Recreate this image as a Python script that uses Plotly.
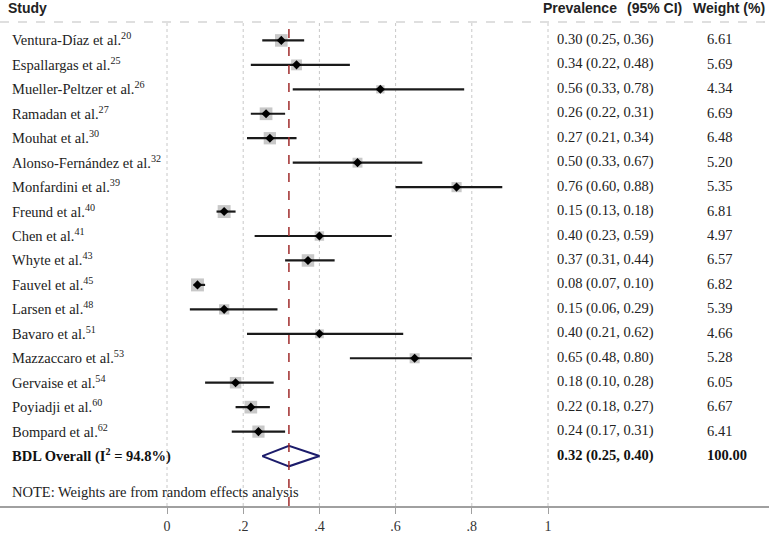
import plotly.graph_objects as go

# ---------------- data ----------------
studies = ["Ventura-Díaz et al.", "Espallargas et al.", "Mueller-Peltzer et al.",
           "Ramadan et al.", "Mouhat et al.", "Alonso-Fernández et al.",
           "Monfardini et al.", "Freund et al.", "Chen et al.", "Whyte et al.",
           "Fauvel et al.", "Larsen et al.", "Bavaro et al.", "Mazzaccaro et al.",
           "Gervaise et al.", "Poyiadji et al.", "Bompard et al."]
refs = [20, 25, 26, 27, 30, 32, 39, 40, 41, 43, 45, 48, 51, 53, 54, 60, 62]
prevalence = [0.30, 0.34, 0.56, 0.26, 0.27, 0.50, 0.76, 0.15, 0.40, 0.37,
              0.08, 0.15, 0.40, 0.65, 0.18, 0.22, 0.24]
ci_low = [0.25, 0.22, 0.33, 0.22, 0.21, 0.33, 0.60, 0.13, 0.23, 0.31,
          0.07, 0.06, 0.21, 0.48, 0.10, 0.18, 0.17]
ci_high = [0.36, 0.48, 0.78, 0.31, 0.34, 0.67, 0.88, 0.18, 0.59, 0.44,
           0.10, 0.29, 0.62, 0.80, 0.28, 0.27, 0.31]
weights = [6.61, 5.69, 4.34, 6.69, 6.48, 5.20, 5.35, 6.81, 4.97, 6.57,
           6.82, 5.39, 4.66, 5.28, 6.05, 6.67, 6.41]
overall_label = "BDL Overall"
overall_i2 = 94.8
overall_est, overall_low, overall_high = 0.32, 0.25, 0.40
overall_weight = 100.00
tick_vals = [0, 0.2, 0.4, 0.6, 0.8, 1]
tick_text = ["0", ".2", ".4", ".6", ".8", "1"]
note = "NOTE: Weights are from random effects analysis"

# ---------------- layout helpers ----------------
W, H = 769, 534
px0, px1 = 167, 548          # pixel positions of x=0 and x=1
scale = px1 - px0
x_range = [(0 - px0) / scale, (W - px0) / scale]
top_px, bot_px = 22, 508
row0_px, row_h = 40.5, 24.55
y_range = [(bot_px - row0_px) / row_h, (top_px - row0_px) / row_h]
plot_h = bot_px - top_px

def paper_y(px):
    return (bot_px - px) / plot_h

SERIF = "Liberation Serif"
SANS = "Liberation Sans"

n = len(studies)
rows = list(range(n))
overall_row = n

fig = go.Figure()

# weight squares
fig.add_trace(go.Scatter(x=prevalence, y=rows, mode="markers",
                         marker=dict(symbol="square", color="#b0b0b0",
                                     size=[w * 1.9 for w in weights],
                                     line=dict(width=0)),
                         hoverinfo="skip", showlegend=False))
# CI lines
xs, ys = [], []
for i in rows:
    xs += [ci_low[i], ci_high[i], None]
    ys += [i, i, None]
fig.add_trace(go.Scatter(x=xs, y=ys, mode="lines",
                         line=dict(color="#1a1a1a", width=2.2),
                         hoverinfo="skip", showlegend=False))
# point estimates
fig.add_trace(go.Scatter(x=prevalence, y=rows, mode="markers",
                         marker=dict(symbol="diamond", color="black", size=7),
                         hoverinfo="skip", showlegend=False))

# overall diamond
hh = 0.42
fig.add_trace(go.Scatter(
    x=[overall_low, overall_est, overall_high, overall_est, overall_low],
    y=[overall_row, overall_row - hh, overall_row, overall_row + hh, overall_row],
    mode="lines", line=dict(color="#1c1c6b", width=2),
    hoverinfo="skip", showlegend=False))

# grid lines (dotted)
for v in tick_vals:
    fig.add_shape(type="line", xref="x", yref="paper", x0=v, x1=v, y0=0, y1=1,
                  line=dict(color="#c8c8c8", width=1, dash="dot"), layer="below")

# overall reference line (red dashed)
fig.add_shape(type="line", xref="x", yref="paper", x0=overall_est, x1=overall_est,
              y0=0, y1=1, line=dict(color="#a02c2c", width=1.5, dash="dash"))

# top dashed separator
fig.add_shape(type="line", xref="paper", yref="paper", x0=0, x1=1, y0=1, y1=1,
              line=dict(color="#c0c0c0", width=1.2, dash="dash"))

# study labels and columns
lab_x = 10 / W
prev_x = 555 / W
wt_x = 705 / W
tshift = 1
body_font = dict(family=SERIF, size=14.5, color="#222")
for i in rows:
    fig.add_annotation(x=lab_x, xref="paper", y=i, yref="y", xanchor="left",
                       yanchor="middle", showarrow=False, yshift=tshift,
                       text=f"{studies[i]}<sup>{refs[i]}</sup>", font=body_font)
    fig.add_annotation(x=prev_x, xref="paper", y=i, yref="y", xanchor="left",
                       yanchor="middle", showarrow=False, yshift=tshift,
                       text=f"{prevalence[i]:.2f} ({ci_low[i]:.2f}, {ci_high[i]:.2f})",
                       font=body_font)
    fig.add_annotation(x=wt_x, xref="paper", y=i, yref="y", xanchor="left",
                       yanchor="middle", showarrow=False, yshift=tshift,
                       text=f"{weights[i]:.2f}", font=body_font)

bold_font = dict(family=SERIF, size=14.5, color="#111")
fig.add_annotation(x=lab_x, xref="paper", y=overall_row, yref="y", xanchor="left",
                   yanchor="middle", showarrow=False, yshift=tshift,
                   text=f"<b>{overall_label} (I<sup>2</sup> = {overall_i2:.1f}%)</b>",
                   font=bold_font)
fig.add_annotation(x=prev_x, xref="paper", y=overall_row, yref="y", xanchor="left",
                   yanchor="middle", showarrow=False, yshift=tshift,
                   text=f"<b>{overall_est:.2f} ({overall_low:.2f}, {overall_high:.2f})</b>",
                   font=bold_font)
fig.add_annotation(x=wt_x, xref="paper", y=overall_row, yref="y", xanchor="left",
                   yanchor="middle", showarrow=False, yshift=tshift,
                   text=f"<b>{overall_weight:.2f}</b>", font=bold_font)

# note
fig.add_annotation(x=lab_x, xref="paper", y=paper_y(494), yref="paper",
                   xanchor="left", yanchor="middle", showarrow=False, text=note,
                   font=body_font)

# headers
hdr_y = paper_y(8)
hdr_font = dict(family=SANS, size=14, color="#222")
for hx, htxt in [(6, "Study"), (541, "Prevalence"), (625, "(95% CI)"), (691, "Weight (%)")]:
    fig.add_annotation(x=hx / W, xref="paper", y=hdr_y, yref="paper", xanchor="left",
                       yanchor="middle", showarrow=False, text=f"<b>{htxt}</b>",
                       font=hdr_font)

fig.update_layout(
    width=W, height=H,
    margin=dict(l=0, r=0, t=top_px, b=H - bot_px),
    plot_bgcolor="white", paper_bgcolor="white",
    xaxis=dict(range=x_range, tickvals=tick_vals, ticktext=tick_text,
               showgrid=False, zeroline=False, showline=True,
               linecolor="#a0a0a0", linewidth=2,
               ticks="outside", ticklen=6, tickcolor="#a0a0a0", tickwidth=1,
               tickfont=dict(family=SERIF, size=14, color="#333")),
    yaxis=dict(range=y_range, showgrid=False, zeroline=False, showline=False,
               showticklabels=False, ticks=""),
)

fig.write_html("out.html", config={"displayModeBar": False},
               post_script="document.body.style.margin='0';document.body.style.overflow='hidden';")
